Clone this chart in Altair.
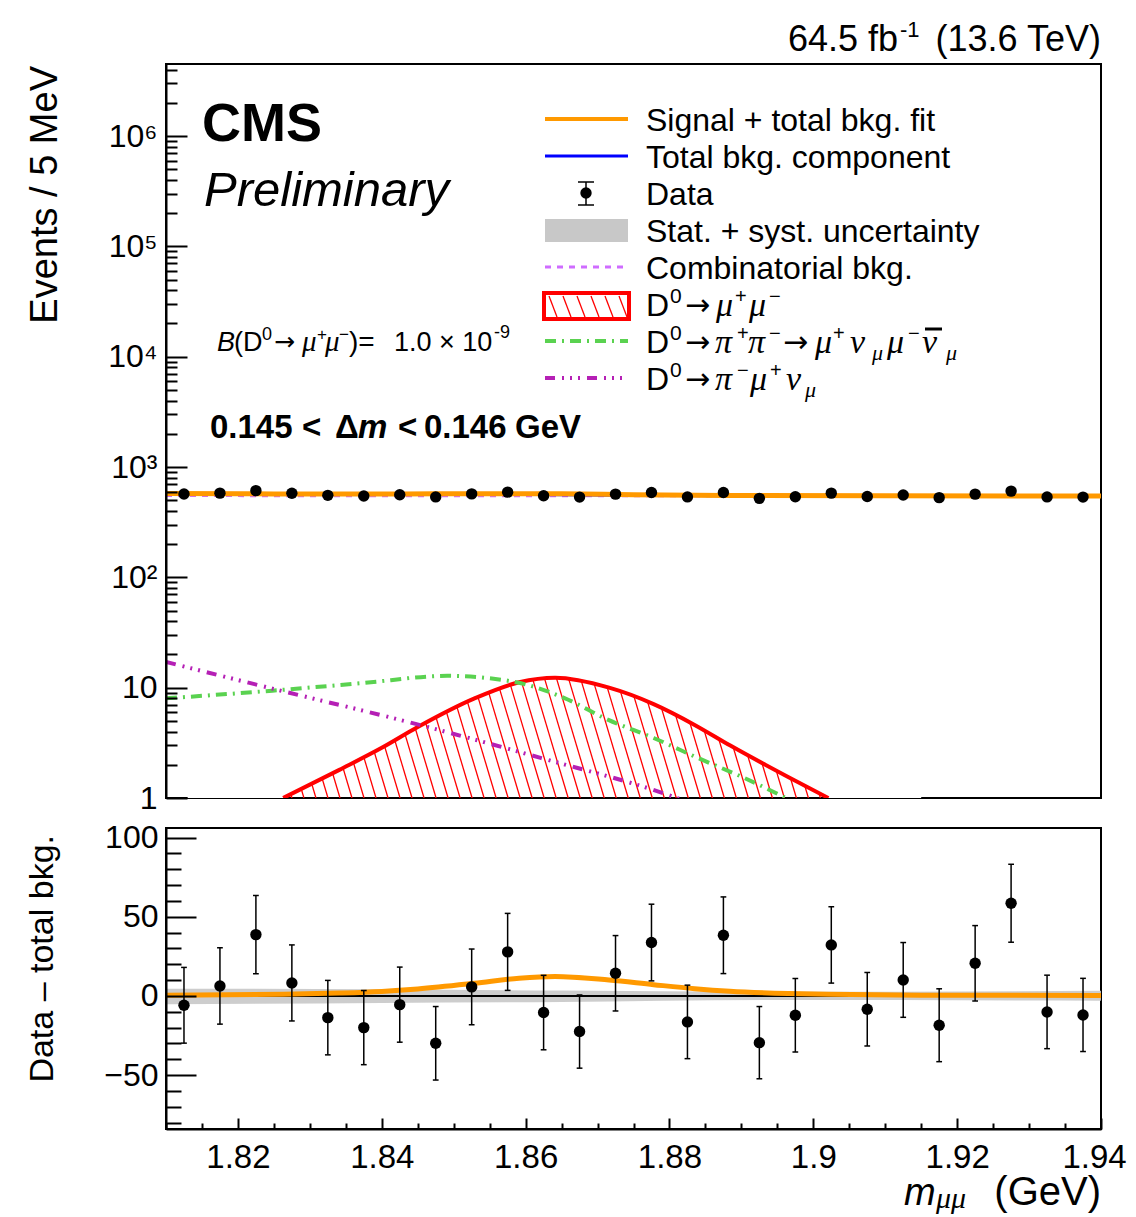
import altair as alt
import pandas as pd

SANS = "Liberation Sans, Arial, Helvetica, sans-serif"
SERIF = "Liberation Serif, Times New Roman, serif"
ARROWF = "DejaVu Sans, Liberation Sans, sans-serif"

# ---------------- data ----------------
bin_x = [1.8125, 1.8175, 1.8225, 1.8275, 1.8325, 1.8375, 1.8425, 1.8475, 1.8525, 1.8575,
         1.8625, 1.8675, 1.8725, 1.8775, 1.8825, 1.8875, 1.8925, 1.8975, 1.9025, 1.9075,
         1.9125, 1.9175, 1.9225, 1.9275, 1.9325, 1.9375]
counts = [570, 580, 611, 578, 554, 547, 561, 536, 571, 592, 550, 534, 568, 587, 536,
          588, 520, 537, 580, 540, 557, 528, 568, 605, 536, 534]
errs = [23.9, 24.1, 24.7, 24.0, 23.5, 23.4, 23.7, 23.2, 23.9, 24.3, 23.5, 23.1, 23.8,
        24.2, 23.2, 24.2, 22.8, 23.2, 24.1, 23.2, 23.6, 23.0, 23.8, 24.6, 23.2, 23.1]
resid = [-5.9, 6.3, 38.7, 8.2, -13.7, -20.0, -5.5, -29.9, 5.7, 27.8, -10.5, -22.5, 14.3,
         33.7, -16.4, 38.3, -29.5, -12.2, 32.2, -8.4, 10.1, -18.5, 20.6, 58.5, -10.1, -12.0]

sig_x = [1.8263, 1.8341, 1.8400, 1.8450, 1.8529, 1.8591, 1.8641, 1.8716, 1.8778, 1.8835,
         1.8884, 1.8965, 1.9021]
sig_y = [1.0, 1.8, 2.85, 4.4, 8.0, 11.2, 12.3, 10.0, 7.1, 4.6, 3.0, 1.55, 1.0]

pp_x = [1.8100, 1.8248, 1.8373, 1.8491, 1.8584, 1.8654, 1.8715, 1.8778, 1.8840, 1.8903, 1.8962, 1.9000]
pp_y = [8.0, 9.4, 11.0, 12.8, 11.3, 8.05, 5.1, 3.5, 2.3, 1.53, 1.0, 0.75]

pm_x = [1.8100, 1.8248, 1.8447, 1.8622, 1.8803, 1.8850]
pm_y = [17.1, 9.8, 4.7, 2.3, 1.04, 0.8]

comb_x = [1.81, 1.94]
comb_y = [551, 546]

tot_x = [1.81, 1.825, 1.84, 1.855, 1.865, 1.875, 1.89, 1.91, 1.94]
tot_y = [577, 571, 567, 565, 560, 553, 550, 547.5, 546]

fit_x = [1.81, 1.825, 1.84, 1.855, 1.865, 1.875, 1.89, 1.91, 1.94]
fit_y = [577, 571, 570, 574, 572, 562, 552, 548, 546]

rfit_x = [1.81, 1.8263, 1.8341, 1.8400, 1.8450, 1.8529, 1.8591, 1.8641, 1.8716, 1.8778,
          1.8835, 1.8884, 1.8965, 1.9021, 1.915, 1.94]
rfit_y = [0.4, 1.0, 1.8, 2.85, 4.4, 8.0, 11.2, 12.3, 10.0, 7.1, 4.6, 3.0, 1.55, 1.0, 0.5, 0.3]

band_x = [1.81, 1.84, 1.865, 1.895, 1.94]
band_lo = [-5.3, -4.4, -3.8, -2.6, -3.0]
band_hi = [4.6, 4.2, 3.4, 2.6, 3.2]

x_labels = [1.82, 1.84, 1.86, 1.88, 1.90, 1.92, 1.94]
decades = [1, 10, 100, 1000, 10000, 100000, 1000000]
xt_vals = [round(1.81 + 0.005 * i, 3) for i in range(27)]
yt_top = [k * 10 ** d for d in range(0, 7) for k in range(1, 10) if k * 10 ** d <= 4.5e6]
yt_bot = list(range(-80, 101, 10))

# ---------------- layout ----------------
W, H1, H2 = 935, 734, 301
X0, Y0T, Y0B = 166, 63, 826

ORANGE = "#ff9900"
BLUE = "#0000ff"
RED = "#ff0000"
GREEN = "#5ad250"
MAGENTA = "#b520b5"
VIOLET = "#cf6cff"
GREY = "#c8c8c8"

xs = alt.Scale(domain=[1.81, 1.94], nice=False, zero=False)
yst = alt.Scale(type="log", domain=[1, 4.5e6], nice=False)
ysb = alt.Scale(domain=[-84, 106], nice=False, zero=False)

df_bins = pd.DataFrame({"x": bin_x, "n": counts, "e": errs, "r": resid})
df_bins["nlo"] = df_bins["n"] - df_bins["e"]
df_bins["nhi"] = df_bins["n"] + df_bins["e"]
df_bins["rlo"] = df_bins["r"] - df_bins["e"]
df_bins["rhi"] = df_bins["r"] + df_bins["e"]
df_bins["cl"] = df_bins["x"] - 0.0004
df_bins["cr"] = df_bins["x"] + 0.0004

ONE = pd.DataFrame({"k": [0]})


def xq(f):
    return alt.X(f, type="quantitative", scale=xs, axis=None)


def yt(f):
    return alt.Y(f, type="quantitative", scale=yst, axis=None)


def yb(f):
    return alt.Y(f, type="quantitative", scale=ysb, axis=None)


def T(px, py, s, size, oy, style="normal", weight="normal", font=SANS,
      align="left", angle=0, baseline="alphabetic"):
    kw = dict(text=s, fontSize=size, fontStyle=style, fontWeight=weight, font=font,
              align=align, baseline=baseline, color="black")
    if angle:
        kw["angle"] = angle
    return alt.Chart(ONE).mark_text(**kw).encode(x=alt.value(px - X0), y=alt.value(py - oy))


def R(px1, py1, px2, py2, color, width, oy, dash=None):
    kw = dict(color=color, strokeWidth=width)
    if dash:
        kw["strokeDash"] = dash
    return alt.Chart(ONE).mark_rule(**kw).encode(
        x=alt.value(px1 - X0), x2=alt.value(px2 - X0),
        y=alt.value(py1 - oy), y2=alt.value(py2 - oy))


def line(xv, yv, yscale_fn, color, width, dash=None, interp="monotone"):
    kw = dict(color=color, strokeWidth=width, interpolate=interp, clip=True)
    if dash:
        kw["strokeDash"] = dash
    return alt.Chart(pd.DataFrame({"x": xv, "y": yv})).mark_line(**kw).encode(
        x=xq("x"), y=yscale_fn("y"))


tick_common = dict(labels=False, tickColor="black", tickWidth=2, domain=True,
                   domainColor="black", domainWidth=2, grid=False, title=None, zindex=2)

# ---------------- top panel ----------------
hatch = alt.Chart(alt.sequence(1.8225, 1.9090, 0.00167, as_="xb")).transform_calculate(
    xt="datum.xb - 0.0051").mark_rule(color=RED, strokeWidth=1.3, clip=True).encode(
    x=alt.X("xb:Q", scale=xs, axis=None), x2=alt.X2("xt:Q"),
    y=alt.YDatum(1, scale=yst, axis=None), y2=alt.Y2Datum(13))

mask_area = alt.Chart(pd.DataFrame({"x": sig_x, "y": sig_y})).mark_area(
    color="white", interpolate="monotone", orient="vertical", clip=True).encode(
    x=xq("x"), y=yt("y"), y2=alt.Y2Datum(15))

mask_rect = alt.Chart(pd.DataFrame({"a": [1.813, 1.9018], "b": [1.8266, 1.915]})).mark_rect(
    color="white", clip=True).encode(
    x=xq("a"), x2=alt.X2("b"), y=alt.YDatum(1, scale=yst, axis=None), y2=alt.Y2Datum(15))

sig_line = line(sig_x, sig_y, yt, RED, 4)
pp_line = line(pp_x, pp_y, yt, GREEN, 4, [11, 6, 2, 6])
pm_line = line(pm_x, pm_y, yt, MAGENTA, 4, [10, 7, 2, 6, 2, 6, 2, 7])
comb_line = line(comb_x, comb_y, yt, VIOLET, 3, [6, 6])
tot_line = line(tot_x, tot_y, yt, BLUE, 3)
fit_line = line(fit_x, fit_y, yt, ORANGE, 5)

err_top = alt.Chart(df_bins).mark_rule(color="black", strokeWidth=1.5).encode(
    x=xq("x"), y=yt("nlo"), y2=alt.Y2("nhi"))

top_label_expr = ("datum.value < 2 ? '1' : datum.value < 20 ? '10' : "
                  "'10' + ['','','\u00b2','\u00b3','\u2074','\u2075','\u2076'][round(log(datum.value)/LN10)]")

pts_top = alt.Chart(df_bins).mark_point(filled=True, color="black", size=130, opacity=1).encode(
    x=alt.X("x:Q", scale=xs, axis=alt.Axis(
        orient="top", offset=-H1, values=xt_vals,
        tickSize={"condition": {"test": "abs(datum.value*50 - round(datum.value*50)) < 0.001", "value": 29}, "value": 15},
        **tick_common)),
    y=alt.Y("n:Q", scale=yst, axis=alt.Axis(
        orient="left", values=decades, labelExpr=top_label_expr, labelFontSize=32,
        labelFont=SANS, labelColor="black", labelPadding=9, ticks=False, domain=False,
        grid=False, title=None, labelFlush=False, labelOverlap=False)))

ticks_top = alt.Chart(df_bins).mark_point(opacity=0).encode(
    x=xq("x"),
    y=alt.Y("n:Q", scale=yst, axis=alt.Axis(
        orient="right", offset=-W, values=yt_top,
        tickSize={"condition": {"test": "abs(log(datum.value)/LN10 - round(log(datum.value)/LN10)) < 0.001", "value": 21}, "value": 11},
        **tick_common)))

# legend (pixel positions on the page)
rows = [118, 155, 192, 229, 266, 303, 340, 377]
bl = [r + 11.5 for r in rows]
LX1, LX2 = 545, 628
OT = Y0T
legend = [
    R(LX1, rows[0], LX2, rows[0], ORANGE, 4, OT),
    R(LX1, rows[1], LX2, rows[1], BLUE, 3, OT),
    R(586, 181, 586, 204, "black", 1.5, OT),
    R(578, 181, 594, 181, "black", 1.5, OT),
    R(578, 204, 594, 204, "black", 1.5, OT),
    alt.Chart(ONE).mark_point(filled=True, color="black", size=130, opacity=1).encode(
        x=alt.value(586 - X0), y=alt.value(192 - OT)),
    alt.Chart(ONE).mark_rect(color=GREY).encode(
        x=alt.value(LX1 - X0), x2=alt.value(LX2 - X0), y=alt.value(218 - OT), y2=alt.value(241 - OT)),
    R(LX1, rows[4], LX2, rows[4], VIOLET, 3, OT, [6, 6]),
    alt.Chart(ONE).mark_rect(fill="white", stroke=RED, strokeWidth=4).encode(
        x=alt.value(544 - X0), x2=alt.value(629 - X0), y=alt.value(292 - OT), y2=alt.value(318 - OT)),
]
for hx in [549, 563, 577, 591, 605, 619]:
    legend.append(R(hx, 295, hx + 8, 316, RED, 1.3, OT))
legend += [
    R(LX1, rows[6], LX2, rows[6], GREEN, 4, OT, [11, 6, 2, 6]),
    R(LX1, rows[7], LX2, rows[7], MAGENTA, 4, OT, [10, 7, 2, 6, 2, 6, 2, 7]),
]

LT = 32
SUP = 13
texts_top = [
    # luminosity label
    T(788, 50, "64.5 fb", 36, OT),
    T(900, 36, "-1", 22, OT),
    T(1101, 50, "(13.6 TeV)", 36, OT, align="right"),
    # CMS Preliminary
    T(202, 140, "CMS", 54, OT, weight="bold"),
    T(204, 205, "Preliminary", 49, OT, style="italic"),
    # branching fraction
    T(217, 350, "B", 27, OT, style="italic"),
    T(234, 350, "(D", 27, OT),
    T(262, 339, "0", 18, OT),
    T(274, 349, "\u2192", 25, OT, font=ARROWF),
    T(302, 350, "\u03bc", 29, OT, style="italic", font=SERIF),
    T(317, 339, "+", 17, OT),
    T(325, 350, "\u03bc", 29, OT, style="italic", font=SERIF),
    T(339, 339, "\u2212", 17, OT),
    T(349, 350, ")=", 28, OT),
    T(394, 350, "1.0 \u00d7 10", 27, OT),
    T(494, 337, "-9", 18, OT),
    # delta m selection
    T(210, 437, "0.145", 33, OT, weight="bold"),
    T(302, 437, "<", 33, OT, weight="bold"),
    T(335, 437, "\u0394", 33, OT, weight="bold"),
    T(358, 437, "m", 33, OT, weight="bold", style="italic"),
    T(398, 437, "<", 33, OT, weight="bold"),
    T(424, 437, "0.146", 33, OT, weight="bold"),
    T(515, 437, "GeV", 33, OT, weight="bold"),
    # legend texts
    T(646, bl[0], "Signal + total bkg. fit", LT, OT),
    T(646, bl[1], "Total bkg. component", LT, OT),
    T(646, bl[2], "Data", LT, OT),
    T(646, bl[3], "Stat. + syst. uncertainty", LT, OT),
    T(646, bl[4], "Combinatorial bkg.", LT, OT),
    # row 6
    T(646, bl[5], "D", LT, OT),
    T(670, bl[5] - SUP, "0", 21, OT),
    T(685, bl[5] - 1, "\u2192", 30, OT, font=ARROWF),
    T(716, bl[5], "\u03bc", 34, OT, style="italic", font=SERIF),
    T(735, bl[5] - SUP, "+", 20, OT),
    T(749, bl[5], "\u03bc", 34, OT, style="italic", font=SERIF),
    T(769, bl[5] - SUP, "\u2212", 20, OT),
    # row 7
    T(646, bl[6], "D", LT, OT),
    T(670, bl[6] - SUP, "0", 21, OT),
    T(685, bl[6] - 1, "\u2192", 30, OT, font=ARROWF),
    T(715, bl[6], "\u03c0", 34, OT, style="italic", font=SERIF),
    T(737, bl[6] - SUP, "+", 20, OT),
    T(748, bl[6], "\u03c0", 34, OT, style="italic", font=SERIF),
    T(769, bl[6] - SUP, "\u2212", 20, OT),
    T(783, bl[6] - 1, "\u2192", 30, OT, font=ARROWF),
    T(815, bl[6], "\u03bc", 34, OT, style="italic", font=SERIF),
    T(833, bl[6] - SUP, "+", 20, OT),
    T(850, bl[6], "\u03bd", 34, OT, style="italic", font=SERIF),
    T(872, bl[6] + 7, "\u03bc", 22, OT, style="italic", font=SERIF),
    T(887, bl[6], "\u03bc", 34, OT, style="italic", font=SERIF),
    T(908, bl[6] - SUP, "\u2212", 20, OT),
    T(922, bl[6], "\u03bd", 34, OT, style="italic", font=SERIF),
    R(925, 328, 942, 328, "black", 3, OT),
    T(946, bl[6] + 7, "\u03bc", 22, OT, style="italic", font=SERIF),
    # row 8
    T(646, bl[7], "D", LT, OT),
    T(670, bl[7] - SUP, "0", 21, OT),
    T(685, bl[7] - 1, "\u2192", 30, OT, font=ARROWF),
    T(715, bl[7], "\u03c0", 34, OT, style="italic", font=SERIF),
    T(737, bl[7] - SUP, "\u2212", 20, OT),
    T(750, bl[7], "\u03bc", 34, OT, style="italic", font=SERIF),
    T(770, bl[7] - SUP, "+", 20, OT),
    T(786, bl[7], "\u03bd", 34, OT, style="italic", font=SERIF),
    T(805, bl[7] + 7, "\u03bc", 22, OT, style="italic", font=SERIF),
    # y title
    T(57, 65, "Events / 5 MeV", 38, OT, align="right", angle=270),
]

top = alt.layer(
    hatch, mask_area, mask_rect, sig_line, pp_line, pm_line, comb_line, tot_line, fit_line,
    err_top, pts_top, ticks_top, *legend, *texts_top
).resolve_axis(y="independent").properties(width=W, height=H1)

# ---------------- bottom panel ----------------
OB = Y0B
band = alt.Chart(pd.DataFrame({"x": band_x, "lo": band_lo, "hi": band_hi})).mark_area(
    color=GREY, opacity=0.9, interpolate="monotone", orient="vertical", clip=True).encode(
    x=xq("x"), y=yb("lo"), y2=alt.Y2("hi"))

zero = alt.Chart(ONE).mark_rule(color="black", strokeWidth=2).encode(
    y=alt.YDatum(0, scale=ysb, axis=None))

rfit_line = line(rfit_x, rfit_y, yb, ORANGE, 5)

err_bot = alt.Chart(df_bins).mark_rule(color="black", strokeWidth=1.5).encode(
    x=xq("x"), y=yb("rlo"), y2=alt.Y2("rhi"))
cap_lo = alt.Chart(df_bins).mark_rule(color="black", strokeWidth=1.5).encode(
    x=xq("cl"), x2=alt.X2("cr"), y=yb("rlo"))
cap_hi = alt.Chart(df_bins).mark_rule(color="black", strokeWidth=1.5).encode(
    x=xq("cl"), x2=alt.X2("cr"), y=yb("rhi"))

pts_bot = alt.Chart(df_bins).mark_point(filled=True, color="black", size=130, opacity=1).encode(
    x=alt.X("x:Q", scale=xs, axis=alt.Axis(
        orient="bottom", values=x_labels, format=".2~f", labelFontSize=33, labelFont=SANS,
        labelColor="black", labelPadding=12, ticks=False, domain=False, grid=False,
        title=None, labelFlush=False, labelOverlap=False,
        labelOffset={"condition": {"test": "datum.value > 1.935", "value": -7}, "value": 0})),
    y=alt.Y("r:Q", scale=ysb, axis=alt.Axis(
        orient="left", values=[-50, 0, 50, 100], format="d", labelFontSize=32, labelFont=SANS,
        labelColor="black", labelPadding=8, ticks=False, domain=False, grid=False,
        title=None, labelFlush=False, labelOverlap=False)))

ticks_bot = alt.Chart(df_bins).mark_point(opacity=0).encode(
    x=alt.X("x:Q", scale=xs, axis=alt.Axis(
        orient="top", offset=-H2, values=xt_vals,
        tickSize={"condition": {"test": "abs(datum.value*50 - round(datum.value*50)) < 0.001", "value": 11}, "value": 6},
        **tick_common)),
    y=alt.Y("r:Q", scale=ysb, axis=alt.Axis(
        orient="right", offset=-W, values=yt_bot,
        tickSize={"condition": {"test": "datum.value % 50 == 0", "value": 30}, "value": 15},
        **tick_common)))

texts_bot = [
    T(53, 833, "Data \u2013 total bkg.", 34, OB, align="right", angle=270),
    T(904, 1203, "m", 38, OB, style="italic"),
    T(936, 1206, "\u03bc\u03bc", 30, OB, style="italic", font=SERIF),
    T(1101, 1203, "(GeV)", 40, OB, align="right"),
]

bottom = alt.layer(
    band, zero, rfit_line, err_bot, cap_lo, cap_hi, pts_bot, ticks_bot, *texts_bot
).resolve_axis(x="independent", y="independent").properties(width=W, height=H2)

chart = alt.vconcat(top, bottom, spacing=5).properties(
    padding={"left": 17, "top": 10, "right": 0, "bottom": 0}
).configure_view(stroke="black", strokeWidth=2).configure_axis(grid=False)

chart.save("out.html", embed_options={"renderer": "svg", "actions": False})
